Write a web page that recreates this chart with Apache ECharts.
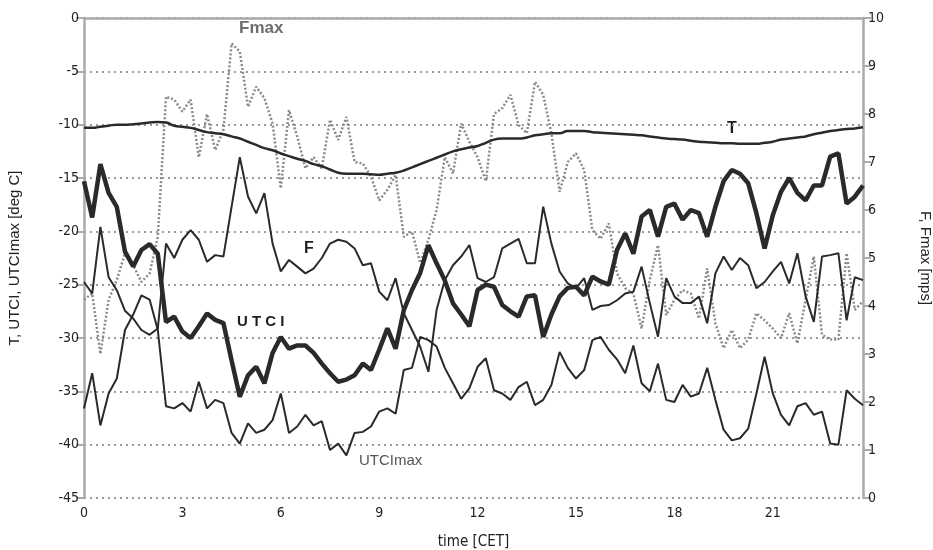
<!DOCTYPE html>
<html>
<head>
<meta charset="utf-8">
<script src="https://cdn.jsdelivr.net/npm/echarts@6/dist/echarts.min.js"></script>
<style>
html,body{margin:0;padding:0;background:#fff;}
#chart{width:933px;height:550px;}
</style>
</head>
<body>
<div id="chart"></div>
<script>
// time categories, 15-minute steps from 0:00 to 23:45 (CET)
const times = Array.from({length: 96}, (_, i) => Math.floor(i / 4) + ':' + ['00','15','30','45'][i % 4]);
const xTickLabels = ['0','3','6','9','12','15','18','21'];

// T [deg C]
const T = [
-10.3,-10.3,-10.2,-10.1,-10.0,-10.0,-9.95,-9.9,-9.8,-9.75,-9.8,-10.1,-10.2,-10.3,-10.5,-10.7,
-10.8,-10.9,-11.1,-11.3,-11.6,-11.9,-12.2,-12.4,-12.7,-12.95,-13.2,-13.4,-13.7,-13.9,-14.2,-14.5,
-14.6,-14.6,-14.6,-14.65,-14.7,-14.6,-14.5,-14.3,-14.0,-13.7,-13.4,-13.1,-12.8,-12.5,-12.3,-12.15,
-12.0,-11.7,-11.4,-11.3,-11.3,-11.3,-11.2,-11.0,-10.9,-10.8,-10.8,-10.6,-10.6,-10.6,-10.7,-10.75,
-10.8,-10.85,-10.9,-10.95,-11.0,-11.1,-11.2,-11.3,-11.35,-11.4,-11.5,-11.6,-11.65,-11.7,-11.75,-11.75,
-11.8,-11.8,-11.8,-11.7,-11.6,-11.4,-11.3,-11.2,-11.1,-10.9,-10.75,-10.6,-10.5,-10.4,-10.35,-10.25
];

// UTCI [deg C]
const UTCI = [
-15.3,-18.7,-13.7,-16.4,-17.7,-21.9,-23.3,-21.75,-21.2,-22.1,-28.5,-28.0,-29.4,-30.0,-28.9,-27.7,
-28.3,-28.6,-32.1,-35.5,-33.5,-32.7,-34.25,-31.4,-29.9,-31.0,-30.7,-30.7,-31.4,-32.4,-33.3,-34.1,
-33.9,-33.5,-32.4,-33.0,-31.1,-29.1,-31.0,-27.4,-25.5,-23.9,-21.3,-23.0,-24.6,-26.75,-27.8,-28.9,
-25.5,-25.0,-25.2,-26.9,-27.5,-28.0,-26.1,-26.0,-29.9,-27.8,-26.1,-25.3,-25.2,-26.0,-24.25,-24.7,
-25.0,-21.75,-20.2,-22.1,-18.6,-18.0,-20.5,-17.7,-17.4,-18.9,-18.0,-18.3,-20.5,-17.7,-15.3,-14.25,
-14.6,-15.5,-18.3,-21.6,-18.5,-16.3,-15.0,-16.4,-17.1,-15.7,-15.7,-13.0,-12.7,-17.4,-16.75,-15.7
];

// UTCImax [deg C]
const UTCImax = [
-36.6,-33.3,-38.2,-35.2,-33.8,-29.25,-27.8,-26.0,-26.4,-29.25,-36.4,-36.6,-36.1,-36.9,-34.1,-36.6,
-35.8,-36.1,-38.9,-39.9,-38.0,-38.9,-38.6,-37.7,-35.2,-38.9,-38.3,-37.2,-38.2,-37.8,-40.5,-39.9,
-41.0,-38.9,-38.8,-38.3,-36.9,-36.6,-37.1,-33.0,-32.8,-29.9,-30.2,-30.8,-32.8,-34.25,-35.7,-34.7,
-32.7,-31.9,-34.9,-35.2,-35.8,-34.6,-34.1,-36.3,-35.8,-34.4,-31.3,-32.8,-33.8,-33.0,-30.2,-29.9,
-31.1,-32.0,-33.3,-30.7,-34.25,-35.0,-32.4,-35.8,-36.0,-34.4,-35.5,-35.2,-32.8,-35.8,-38.6,-39.6,
-39.4,-38.5,-35.2,-31.75,-35.2,-37.2,-38.2,-36.4,-36.1,-37.2,-36.9,-39.9,-40.0,-34.9,-35.7,-36.3
];

// F [mps]
const F = [
4.5,4.26,5.65,4.6,4.33,3.9,3.74,3.5,3.4,3.53,5.3,5.0,5.38,5.58,5.38,4.92,
5.06,5.03,6.07,7.1,6.28,5.93,6.35,5.3,4.72,4.96,4.82,4.68,4.78,5.0,5.3,5.38,
5.34,5.2,4.85,4.89,4.3,4.12,4.58,3.85,3.5,3.15,2.63,3.92,4.54,4.85,5.03,5.27,
4.58,4.5,4.6,5.2,5.3,5.4,4.89,4.89,6.07,5.3,4.72,4.47,4.37,4.58,3.92,4.0,
4.02,4.12,4.26,4.3,4.82,4.06,3.36,4.58,4.2,4.06,4.06,4.2,3.64,4.68,5.03,4.75,
5.0,4.85,4.37,4.5,4.72,4.92,4.47,5.1,4.2,3.67,5.03,5.06,5.1,3.7,4.6,4.54
];

// Fmax [mps]
const Fmax = [
4.13,4.26,3.0,4.13,4.54,5.1,4.85,4.5,4.68,5.44,8.36,8.3,8.05,8.3,7.1,8.0,
7.25,7.67,9.47,9.3,8.15,8.57,8.33,7.8,6.45,8.08,7.53,6.87,7.1,6.87,7.88,7.46,
7.94,7.0,6.97,6.7,6.2,6.42,6.73,5.44,5.55,4.9,5.38,6.0,7.1,6.76,7.8,7.42,
7.1,6.6,8.0,8.12,8.4,7.77,7.6,8.67,8.4,7.6,6.38,7.0,7.18,6.83,5.58,5.4,
5.72,4.68,4.37,4.26,3.53,4.54,5.27,3.81,4.13,4.33,4.26,3.74,4.78,3.64,3.12,3.5,
3.12,3.3,3.85,3.7,3.53,3.33,3.85,3.22,4.13,5.03,3.4,3.3,3.3,5.1,3.92,4.1
];

const leftTicks = [-45,-40,-35,-30,-25,-20,-15,-10,-5,0];
const rightTicks = [0,1,2,3,4,5,6,7,8,9,10];

const condensed = '"Liberation Sans Narrow","DejaVu Sans Condensed","Roboto Condensed","Liberation Sans",sans-serif';
const normalFont = '"Liberation Sans","DejaVu Sans",sans-serif';
const lineCol = '#2a2a2a';
const axisCol = '#aaaaaa';

const chart = echarts.init(document.getElementById('chart'), null, {renderer: 'canvas'});
chart.setOption({
  animation: false,
  backgroundColor: '#ffffff',
  grid: {left: 84, right: 70, top: 18, bottom: 52, containLabel: false, outerBoundsMode: 'none'},
  xAxis: {
    type: 'category',
    data: times,
    boundaryGap: false,
    name: 'time [CET]',
    nameLocation: 'middle',
    nameGap: 37,
    nameTextStyle: {fontFamily: condensed, fontSize: 15, color: '#222'},
    axisLine: {show: true, lineStyle: {color: axisCol, width: 2.5}},
    axisTick: {show: false},
    axisLabel: {
      interval: 11, margin: 8, fontFamily: condensed, fontSize: 14, color: '#222',
      formatter: (v, idx) => xTickLabels[idx / 12] !== undefined ? xTickLabels[idx / 12] : ''
    },
    splitLine: {show: false}
  },
  yAxis: [{
    type: 'value', min: -45, max: 0, interval: 5, position: 'left',
    name: 'T, UTCI, UTCImax [deg C]', nameLocation: 'middle', nameRotate: 90, nameGap: 62,
    nameTextStyle: {fontFamily: normalFont, fontSize: 15, color: '#222'},
    axisLine: {show: true, lineStyle: {color: axisCol, width: 2.5}},
    axisTick: {show: true, length: 8, lineStyle: {color: axisCol, width: 2}},
    axisLabel: {margin: 5, fontFamily: condensed, fontSize: 14, color: '#222',
      formatter: v => leftTicks.includes(v) ? String(v) : ''},
    splitLine: {show: true, lineStyle: {color: '#9a9a9a', width: 2, type: [2, 4]}}
  }, {
    type: 'value', min: 0, max: 10, interval: 1, position: 'right',
    name: 'F, Fmax [mps]', nameLocation: 'middle', nameRotate: -90, nameGap: 55,
    nameTextStyle: {fontFamily: normalFont, fontSize: 15, color: '#222'},
    axisLine: {show: true, lineStyle: {color: axisCol, width: 2.5}},
    axisTick: {show: true, length: 8, lineStyle: {color: axisCol, width: 2}},
    axisLabel: {margin: 5, fontFamily: condensed, fontSize: 14, color: '#222',
      formatter: v => rightTicks.includes(v) ? String(v) : ''},
    splitLine: {show: false}
  }],
  series: [
    {name: 'Fmax', type: 'line', yAxisIndex: 1, data: Fmax, symbol: 'none',
      lineStyle: {color: '#8a8a8a', width: 2.5, type: [2, 2]}, z: 2},
    {name: 'F', type: 'line', yAxisIndex: 1, data: F, symbol: 'none',
      lineStyle: {color: lineCol, width: 2}, z: 3},
    {name: 'UTCImax', type: 'line', yAxisIndex: 0, data: UTCImax, symbol: 'none',
      lineStyle: {color: lineCol, width: 2}, z: 3},
    {name: 'UTCI', type: 'line', yAxisIndex: 0, data: UTCI, symbol: 'none',
      lineStyle: {color: lineCol, width: 4.5}, z: 4},
    {name: 'T', type: 'line', yAxisIndex: 0, data: T, symbol: 'none', smooth: true,
      lineStyle: {color: lineCol, width: 2.5}, z: 4}
  ],
  graphic: [
    {type: 'text', left: 239, top: 20, style: {text: 'Fmax', fontFamily: normalFont, fontWeight: 'bold', fontSize: 17, fill: '#6e6e6e'}},
    {type: 'text', left: 727, top: 121, style: {text: 'T', fontFamily: normalFont, fontWeight: 'bold', fontSize: 16, fill: '#1e1e1e'}},
    {type: 'text', left: 304, top: 241, style: {text: 'F', fontFamily: normalFont, fontWeight: 'bold', fontSize: 16, fill: '#1e1e1e'}},
    {type: 'text', left: 237, top: 314, style: {text: 'U T C I', fontFamily: normalFont, fontWeight: 'bold', fontSize: 15, fill: '#1e1e1e'}},
    {type: 'text', left: 359, top: 453, style: {text: 'UTCImax', fontFamily: normalFont, fontSize: 15, fill: '#555555'}}
  ]
});
</script>
</body>
</html>
